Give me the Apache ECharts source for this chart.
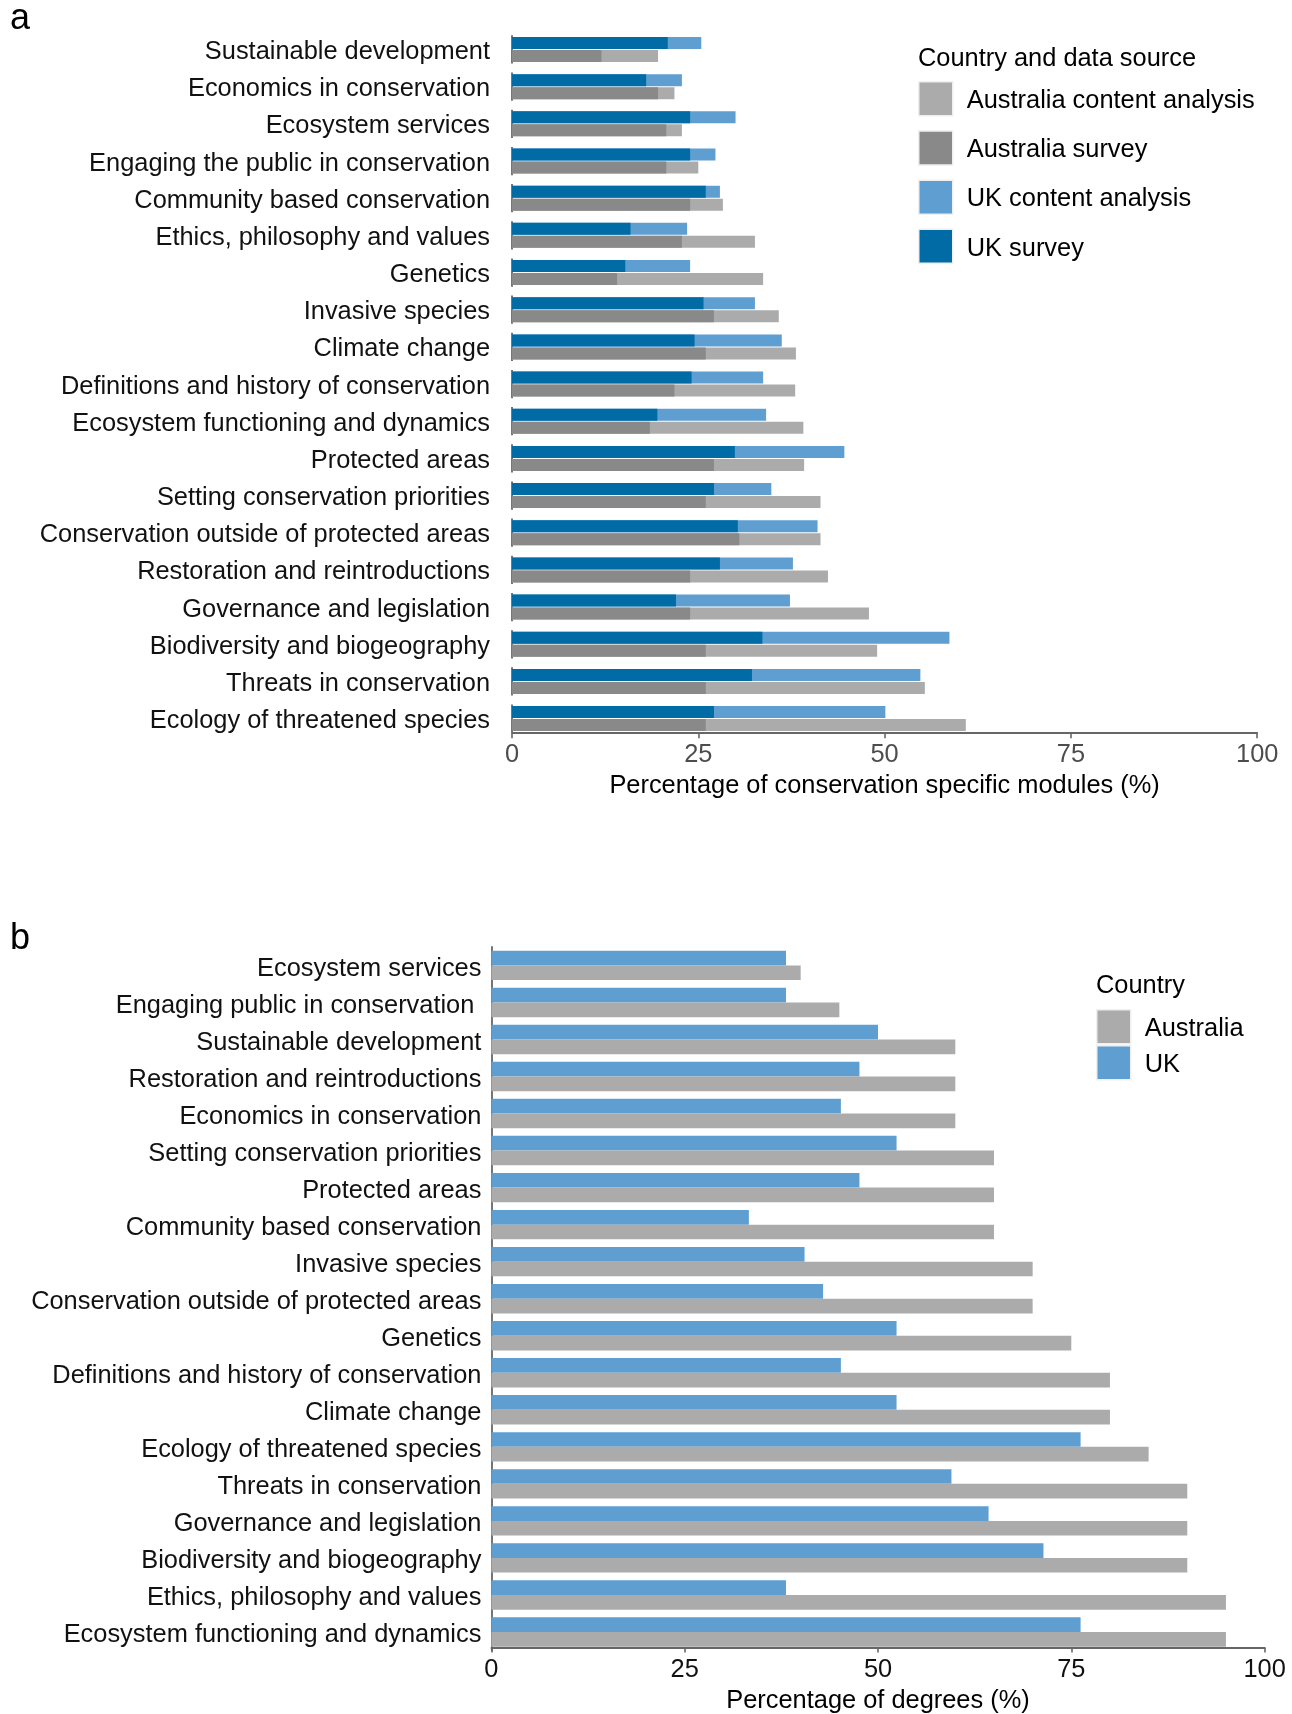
<!DOCTYPE html>
<html>
<head>
<meta charset="utf-8">
<title>Conservation topics: Australia and UK</title>
<script src="https://cdn.jsdelivr.net/npm/echarts@6/dist/echarts.min.js"></script>
<style>
  html, body { margin: 0; padding: 0; background: #ffffff; }
  #chart { width: 1292px; height: 1714px; }
</style>
</head>
<body>
<div id="chart"></div>
<script>
// Panel a: share of conservation-specific modules covering each topic
const topicsA = [
  "Sustainable development", "Economics in conservation", "Ecosystem services",
  "Engaging the public in conservation", "Community based conservation",
  "Ethics, philosophy and values", "Genetics", "Invasive species", "Climate change",
  "Definitions and history of conservation", "Ecosystem functioning and dynamics",
  "Protected areas", "Setting conservation priorities",
  "Conservation outside of protected areas", "Restoration and reintroductions",
  "Governance and legislation", "Biodiversity and biogeography",
  "Threats in conservation", "Ecology of threatened species"
];
const ukContentA  = [25.4, 22.8, 30.0, 27.3, 27.9, 23.5, 23.9, 32.6, 36.2, 33.7, 34.1, 44.6, 34.8, 41.0, 37.7, 37.3, 58.7, 54.8, 50.1];
const ukSurveyA   = [20.9, 18.0, 23.9, 23.9, 26.0, 15.9, 15.2, 25.7, 24.5, 24.1, 19.5, 29.9, 27.1, 30.3, 27.9, 22.0, 33.6, 32.2, 27.1];
const ausContentA = [19.6, 21.8, 22.8, 25.0, 28.3, 32.6, 33.7, 35.8, 38.1, 38.0, 39.1, 39.2, 41.4, 41.4, 42.4, 47.9, 49.0, 55.4, 60.9];
const ausSurveyA  = [12.0, 19.6, 20.7, 20.7, 23.9, 22.8, 14.1, 27.1, 26.0, 21.8, 18.5, 27.1, 26.0, 30.5, 23.9, 23.9, 26.0, 26.0, 26.0];

// Panel b: share of degrees covering each topic
const topicsB = [
  "Ecosystem services", "Engaging public in conservation ", "Sustainable development",
  "Restoration and reintroductions", "Economics in conservation",
  "Setting conservation priorities", "Protected areas", "Community based conservation",
  "Invasive species", "Conservation outside of protected areas", "Genetics",
  "Definitions and history of conservation", "Climate change",
  "Ecology of threatened species", "Threats in conservation", "Governance and legislation",
  "Biodiversity and biogeography", "Ethics, philosophy and values",
  "Ecosystem functioning and dynamics"
];
const ukB  = [38.1, 38.1, 50.0, 47.6, 45.2, 52.4, 47.6, 33.3, 40.5, 42.9, 52.4, 45.2, 52.4, 76.2, 59.5, 64.3, 71.4, 38.1, 76.2];
const ausB = [40, 45, 60, 60, 60, 65, 65, 65, 70, 70, 75, 80, 80, 85, 90, 90, 90, 95, 95];

const xTicks = { min: 0, max: 100, interval: 25 };

const FONT = "'Liberation Sans', Arial, Helvetica, sans-serif";
const FS = 25.4;
const AXIS_GREY = '#666666';

const COLORS = {
  ukSurvey: '#006BA4',
  ukContent: '#5F9ED1',
  ausSurvey: '#898989',
  ausContent: '#ABABAB'
};

// text token whose top padding nudges the glyphs down a little
const nudged = (padTop, padLeft, color) => ({
  fontFamily: FONT, fontSize: FS, color: color, lineHeight: 26, padding: [padTop, 0, 0, padLeft]
});

const chart = echarts.init(document.getElementById('chart'), null, { renderer: 'canvas' });

const bandH = 706.3;           // 19 categories, ~37.17px each
const gridA = { left: 512, width: 745.2, top: 30.9, height: bandH };
const gridB = { left: 491.4, width: 773.2, top: 946.9, height: bandH };

const hiddenValueAxis = (gi) => ({
  type: 'value', gridIndex: gi, min: xTicks.min, max: xTicks.max, show: false
});
const hiddenCatAxis = (gi, data) => ({
  type: 'category', gridIndex: gi, data: data, inverse: true, show: false
});

const option = {
  backgroundColor: '#ffffff',
  animation: false,
  textStyle: { fontFamily: FONT },
  title: [
    { text: 'a', left: 10, top: 1, padding: 0,
      textStyle: { fontFamily: FONT, fontSize: 36, fontWeight: 'normal', color: '#000' } },
    { text: 'b', left: 10, top: 921, padding: 0,
      textStyle: { fontFamily: FONT, fontSize: 36, fontWeight: 'normal', color: '#000' } },
    { text: 'Country and data source', left: 918, top: 46.5, padding: 0,
      textStyle: { fontFamily: FONT, fontSize: FS, fontWeight: 'normal', color: '#000' } },
    { text: 'Country', left: 1096, top: 973.5, padding: 0,
      textStyle: { fontFamily: FONT, fontSize: FS, fontWeight: 'normal', color: '#000' } }
  ],
  legend: [
    {
      data: ['Australia content analysis', 'Australia survey', 'UK content analysis', 'UK survey'],
      orient: 'vertical', left: 918, top: 81, padding: 0,
      itemWidth: 34, itemHeight: 34, itemGap: 13.7, icon: 'rect',
      itemStyle: { borderColor: '#f0f0f0', borderWidth: 1.5 },
      formatter: '{t|{name}}',
      textStyle: { fontFamily: FONT, fontSize: FS, color: '#000', rich: { t: nudged(4.5, 9, '#000') } },
      selectedMode: false
    },
    {
      data: ['Australia', 'UK'],
      orient: 'vertical', left: 1096, top: 1009, padding: 0,
      itemWidth: 34, itemHeight: 34, itemGap: 0.5, icon: 'rect',
      itemStyle: { borderColor: '#f0f0f0', borderWidth: 1.5 },
      formatter: '{t|{name}}',
      textStyle: { fontFamily: FONT, fontSize: FS, color: '#000', rich: { t: nudged(4.5, 9, '#000') } },
      selectedMode: false
    }
  ],
  grid: [
    Object.assign({}, gridA),                                  // axes of panel a
    Object.assign({}, gridA, { top: gridA.top - 6.5 }),        // UK bars of panel a
    Object.assign({}, gridA, { top: gridA.top + 6.5 }),        // Australia bars of panel a
    Object.assign({}, gridB)                                   // panel b
  ],
  xAxis: [
    {
      type: 'value', gridIndex: 0, min: xTicks.min, max: xTicks.max, interval: xTicks.interval,
      offset: -4,
      axisLine: { show: true, lineStyle: { color: AXIS_GREY, width: 1.8 } },
      axisTick: { show: true, length: 5, lineStyle: { color: AXIS_GREY, width: 1.6 } },
      axisLabel: { fontFamily: FONT, fontSize: FS, color: '#4d4d4d', margin: 9 },
      splitLine: { show: false },
      name: 'Percentage of conservation specific modules (%)',
      nameLocation: 'middle', nameGap: 40.5,
      nameTextStyle: { fontFamily: FONT, fontSize: FS, color: '#000' }
    },
    hiddenValueAxis(1),
    hiddenValueAxis(2),
    {
      type: 'value', gridIndex: 3, min: xTicks.min, max: xTicks.max, interval: xTicks.interval,
      offset: -3,
      axisLine: { show: true, lineStyle: { color: AXIS_GREY, width: 1.8 } },
      axisTick: { show: true, length: 5, lineStyle: { color: AXIS_GREY, width: 1.6 } },
      axisLabel: { fontFamily: FONT, fontSize: FS, color: '#111', margin: 10 },
      splitLine: { show: false },
      name: 'Percentage of degrees (%)',
      nameLocation: 'middle', nameGap: 40.5,
      nameTextStyle: { fontFamily: FONT, fontSize: FS, color: '#000' }
    }
  ],
  yAxis: [
    {
      type: 'category', gridIndex: 0, data: topicsA, inverse: true,
      axisLine: { show: false }, axisTick: { show: false },
      axisLabel: {
        fontFamily: FONT, fontSize: FS, color: '#111', margin: 22,
        formatter: (v) => '{l|' + v + '}',
        rich: { l: nudged(5, 0, '#111') }
      }
    },
    hiddenCatAxis(1, topicsA),
    hiddenCatAxis(2, topicsA),
    {
      type: 'category', gridIndex: 3, data: topicsB, inverse: true,
      axisLine: { show: true, lineStyle: { color: AXIS_GREY, width: 1.8 } },
      axisTick: { show: false },
      axisLabel: {
        fontFamily: FONT, fontSize: FS, color: '#111', margin: 10,
        formatter: (v) => '{l|' + v + '}',
        rich: { l: nudged(6.6, 0, '#111') }
      }
    }
  ],
  series: [
    {
      // short axis segment beside each topic in panel a
      type: 'custom', xAxisIndex: 0, yAxisIndex: 0, silent: true,
      data: topicsA.map((t, i) => [0, i]),
      encode: { x: 0, y: 1 },
      renderItem: function (params, api) {
        const p = api.coord([api.value(0), api.value(1)]);
        const h = api.size([0, 1])[1];
        return {
          type: 'line',
          shape: { x1: p[0], y1: p[1] - h * 0.38, x2: p[0], y2: p[1] + h * 0.38 },
          style: { stroke: AXIS_GREY, lineWidth: 1.8 }
        };
      }
    },
    {
      name: 'UK content analysis', type: 'bar', xAxisIndex: 1, yAxisIndex: 1,
      data: ukContentA, barWidth: 12, barGap: '-100%',
      itemStyle: { color: COLORS.ukContent }
    },
    {
      name: 'UK survey', type: 'bar', xAxisIndex: 1, yAxisIndex: 1,
      data: ukSurveyA, barWidth: 12, barGap: '-100%',
      itemStyle: { color: COLORS.ukSurvey }
    },
    {
      name: 'Australia content analysis', type: 'bar', xAxisIndex: 2, yAxisIndex: 2,
      data: ausContentA, barWidth: 12, barGap: '-100%',
      itemStyle: { color: COLORS.ausContent }
    },
    {
      name: 'Australia survey', type: 'bar', xAxisIndex: 2, yAxisIndex: 2,
      data: ausSurveyA, barWidth: 12, barGap: '-100%',
      itemStyle: { color: COLORS.ausSurvey }
    },
    {
      name: 'UK', type: 'bar', xAxisIndex: 3, yAxisIndex: 3,
      data: ukB, barWidth: 14.7, barGap: '0%',
      itemStyle: { color: COLORS.ukContent }
    },
    {
      name: 'Australia', type: 'bar', xAxisIndex: 3, yAxisIndex: 3,
      data: ausB, barWidth: 14.7, barGap: '0%',
      itemStyle: { color: COLORS.ausContent }
    }
  ]
};

chart.setOption(option);
</script>
</body>
</html>
